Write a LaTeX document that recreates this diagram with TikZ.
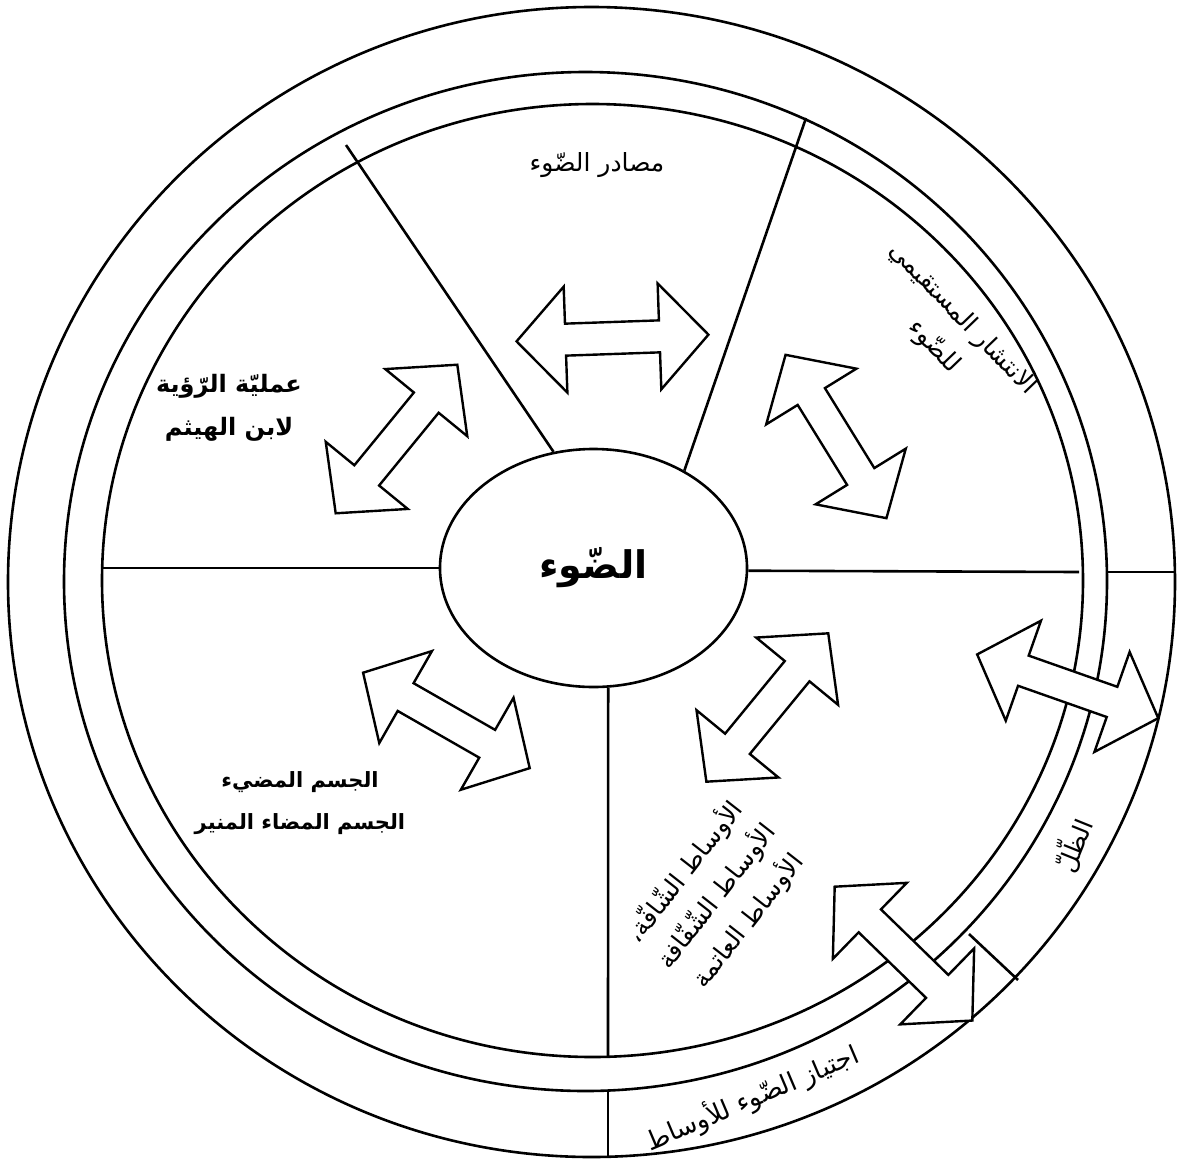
\documentclass[tikz,border=0pt]{standalone}
\usepackage{fontspec}
\usepackage{tikz}
\usetikzlibrary{shapes.geometric}
\newfontfamily\arabicfont[Script=Arabic]{DejaVu Sans}
\TeXXeTstate=1
\newcommand{\arline}[1]{\beginR #1\endR}

\begin{document}
\begin{tikzpicture}[x=1pt, y=-1pt, line width=2.6pt,
    arlabel/.style={font=\arabicfont\fontsize{25}{40}\selectfont, align=center, inner sep=0pt},
    boldlabel/.style={arlabel, font=\arabicfont\bfseries\fontsize{24}{43}\selectfont},
    dblarrow/.pic={\draw[fill=white, line width=2.4pt, line join=miter] (-96,0) -- (-47,-53) -- (-47,-16) -- (47,-16) -- (47,-53) -- (96,0) -- (47,53) -- (47,16) -- (-47,16) -- (-47,53) -- cycle;}]
  \useasboundingbox (0,0) rectangle (1181,1160);

  \draw (591.5,582) ellipse [x radius=583.5, y radius=575];
  \draw (585.5,581.5) ellipse [x radius=521.5, y radius=509.5];
  \draw (592.5,580.5) ellipse [x radius=490.5, y radius=476.5];

  \node[ellipse, draw, fill=white, minimum width=307pt, minimum height=238pt, inner sep=0pt,
        font=\arabicfont\bfseries\fontsize{38}{40}\selectfont] (light) at (593.5,568) {\arline{الضّوء}};

  \coordinate (w) at (102,568);
  \coordinate (e) at (1079,572);
  \coordinate (nw) at (346,145);
  \coordinate (ne) at (806,118);
  \coordinate (s) at (608,1057);
  \draw (light.west) -- (w);
  \draw (light.-1.5) -- (e);
  \draw (light.109) -- (nw);
  \draw (light.47.5) -- (ne);
  \draw (light.-83) -- (s);

  \coordinate (r1a) at (1107,572);
  \coordinate (r1b) at (1175,572);
  \coordinate (r2a) at (969,934);
  \coordinate (r2b) at (1018,980);
  \coordinate (r3a) at (608,1091);
  \coordinate (r3b) at (608,1157);
  \draw (r1a) -- (r1b);
  \draw (r2a) -- (r2b);
  \draw (r3a) -- (r3b);

  \pic[rotate=2] at (612.5,338) {dblarrow};
  \pic[rotate=50.7] at (396.5,439) {dblarrow};
  \pic[rotate=121.7] at (836,436.5) {dblarrow};
  \pic[rotate=-29.8] at (446.4,720.4) {dblarrow};
  \pic[rotate=50.6] at (767.3,707.5) {dblarrow};
  \pic[rotate=-19.4] at (1067.7,686.3) {dblarrow};
  \pic[rotate=-44.2] at (903.5,953.6) {dblarrow};

  \node[arlabel] (sources) at (597,165) {\arline{مصادر الضّوء}};
  \node[arlabel, rotate=-46] (propagation) at (948,333) {\arline{الانتشار المستقيمي}\\\arline{للضّوء}};
  \node[boldlabel] (vision) at (229,408) {\arline{عمليّة الرّؤية}\\\arline{لابن الهيثم}};
  \node[boldlabel, font=\arabicfont\bfseries\fontsize{21}{42}\selectfont] (bodies) at (300,803) {\arline{الجسم المضيء}\\\arline{الجسم المضاء المنير}};
  \node[arlabel, rotate=52] (media) at (716,896) {\arline{الأوساط الشّافّة،}\\\arline{الأوساط الشّفّافة}\\\arline{الأوساط العاتمة}};
  \node[arlabel, rotate=68] (shadow) at (1073,845) {\arline{الظّلّ}};
  \node[arlabel, font=\arabicfont\fontsize{26}{40}\selectfont, rotate=23] (crossing) at (752,1098) {\arline{اجتياز الضّوء للأوساط}};
\end{tikzpicture}
\end{document}
